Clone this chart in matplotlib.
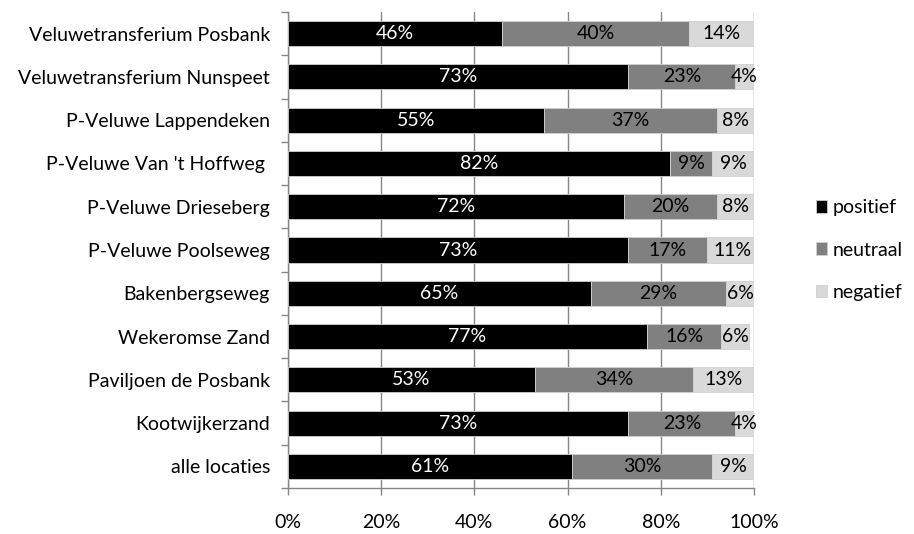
import numpy as np
import matplotlib
matplotlib.use("Agg")
import matplotlib.pyplot as plt
from matplotlib.ticker import FixedLocator

plt.rcParams['font.family'] = ['Lato', 'DejaVu Sans']

# locations, top to bottom
locaties = [
    "Veluwetransferium Posbank",
    "Veluwetransferium Nunspeet",
    "P-Veluwe Lappendeken",
    "P-Veluwe Van 't Hoffweg ",
    "P-Veluwe Drieseberg",
    "P-Veluwe Poolseweg",
    "Bakenbergseweg",
    "Wekeromse Zand",
    "Paviljoen de Posbank",
    "Kootwijkerzand",
    "alle locaties",
]
positief = [46, 73, 55, 82, 72, 73, 65, 77, 53, 73, 61]
neutraal = [40, 23, 37, 9, 20, 17, 29, 16, 34, 23, 30]
negatief = [14, 4, 8, 9, 8, 11, 6, 6, 13, 4, 9]

series = [
    ("positief", positief, "#000000", "white"),
    ("neutraal", neutraal, "#808080", "black"),
    ("negatief", negatief, "#d9d9d9", "black"),
]

FS = 14

fig = plt.figure(figsize=(9.14, 5.34), dpi=100)
ax = fig.add_axes([288 / 914, 46 / 534, 466 / 914, 476 / 534])

y = np.arange(len(locaties))[::-1]
left = np.zeros(len(locaties))
for name, vals, color, txtcolor in series:
    vals = np.array(vals, dtype=float)
    ax.barh(y, vals / 100.0, left=left / 100.0, height=0.58, color=color,
            edgecolor="#d0d0d0", linewidth=0.6, label=name, zorder=3)
    for yi, l, v in zip(y, left, vals):
        ax.text((l + v / 2) / 100.0, yi, "{:d}%".format(int(v)), ha="center",
                va="center", color=txtcolor, fontsize=FS, zorder=4)
    left += vals

ax.set_xlim(0, 1)
ax.set_ylim(-0.5, len(locaties) - 0.5)
ticks = np.arange(0, 1.01, 0.2)
ax.set_xticks(ticks)
ax.set_xticklabels(["{:d}%".format(int(round(t * 100))) for t in ticks], fontsize=FS)
ax.set_yticks(y)
ax.set_yticklabels(locaties, fontsize=FS)
ax.yaxis.set_minor_locator(FixedLocator(np.arange(-0.5, len(locaties), 1.0)))
ax.tick_params(axis="y", which="major", length=0, pad=13)
ax.tick_params(axis="y", which="minor", length=5, color="#868686", width=1)
ax.tick_params(axis="x", length=5, color="#868686", width=1, pad=14)

ax.grid(axis="x", color="#868686", linewidth=1, zorder=0)
for s in ["top", "right"]:
    ax.spines[s].set_visible(False)
for s in ["left", "bottom"]:
    ax.spines[s].set_color("#868686")
    ax.spines[s].set_linewidth(1)

ax.legend(loc="center left", bbox_to_anchor=(1.095, 0.5), frameon=False,
          fontsize=FS, handlelength=0.6, handleheight=0.6, handletextpad=0.25,
          labelspacing=1.3)

fig.savefig("out.png", dpi=100)
